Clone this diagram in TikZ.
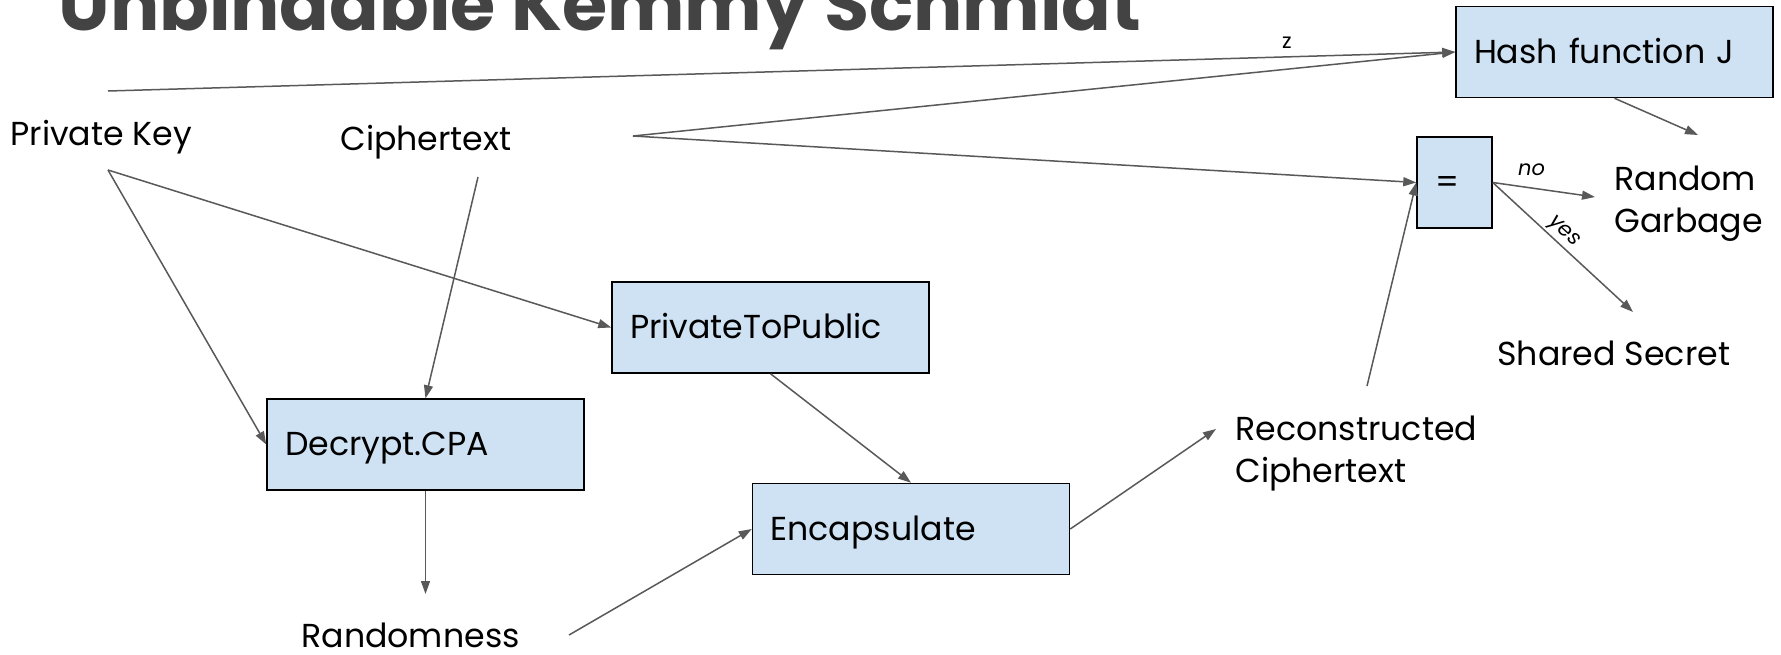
\documentclass[tikz,border=0pt]{standalone}
\usepackage{fontspec}
\setmainfont{Poppins}
\usetikzlibrary{arrows.meta}
\definecolor{boxfill}{HTML}{CFE2F3}
\definecolor{wire}{HTML}{595959}
\definecolor{titlegray}{HTML}{434343}
\begin{document}
\begin{tikzpicture}[x=0.5pt, y=-0.5pt,
  blockbox/.style={draw=black, line width=0.75pt, fill=boxfill,
    font=\fontsize{16.6}{21}\selectfont, inner xsep=9pt, inner ysep=0pt,
    text width=140.5pt, align=left, minimum height=45.5pt,
    text height=11pt, text depth=0pt},
  eqbox/.style={blockbox, text width=19.5pt},
  lbl/.style={font=\fontsize{16.6}{21}\selectfont, inner sep=0pt,
    align=left, anchor=base west},
  small/.style={font=\fontsize{10.5}{12}\selectfont, inner sep=0pt},
  wire/.style={draw=wire, line width=0.75pt,
    -{Triangle[length=6.5pt, width=4.5pt]}}]

\useasboundingbox (0,0) rectangle (1781,654);
\clip (0,0) rectangle (1781,654);
\fill[white] (0,0) rectangle (1781,654);

% title, partly above the top edge
\node[anchor=base west, inner sep=0pt, text=titlegray,
  font=\fontsize{36.6}{40}\bfseries] (title) at (58,30) {Unbindable Kemmy Schmidt};

% boxes
\node[blockbox] (hash) at (1614.5,52)  {Hash function J};
\node[eqbox]    (eq)   at (1454.5,182.5) {=};
\node[blockbox] (p2p)  at (770.5,327.5) {PrivateToPublic};
\node[blockbox] (dec)  at (425.5,444.5) {Decrypt.CPA};
\node[blockbox] (enc)  at (911,529)     {Encapsulate};

% plain labels (two-line ones are placed by their last baseline)
\node[lbl] (pk)  at (10,145)   {Private Key};
\node[lbl] (ct)  at (340,150)  {Ciphertext};
\node[lbl] (rnd) at (301,647)  {Randomness};
\node[lbl] (rc)  at (1235,482) {Reconstructed\\Ciphertext};
\node[lbl] (rg)  at (1614,232) {Random\\Garbage};
\node[lbl] (ss)  at (1497,365) {Shared Secret};

% loose connector ends
\coordinate (pk-top)  at (108,91);
\coordinate (pk-bot)  at (108,170);
\coordinate (ct-in)   at (633,136);
\coordinate (ct-bot)  at (478,177);
\coordinate (rnd-top) at (425.5,594);
\coordinate (rnd-out) at (569,635);
\coordinate (rc-in)   at (1216,429);
\coordinate (rc-out)  at (1367,386);
\coordinate (rg-in1)  at (1698,135);
\coordinate (rg-in2)  at (1595,197);
\coordinate (ss-in)   at (1633,312);

% connectors
\draw[wire] (pk-top) -- node[small, pos=0.875, anchor=base, yshift=4pt] {z} (hash.west);
\draw[wire] (ct-in) -- (hash.west);
\draw[wire] (ct-in) -- (eq.west);
\draw[wire] (pk-bot) -- (dec.west);
\draw[wire] (pk-bot) -- (p2p.west);
\draw[wire] (ct-bot) -- (dec.north);
\draw[wire] (dec.south) -- (rnd-top);
\draw[wire] (rnd-out) -- (enc.west);
\draw[wire] (p2p.south) -- (enc.north);
\draw[wire] (enc.east) -- (rc-in);
\draw[wire] (rc-out) -- (eq.west);
\draw[wire] (hash.south) -- (rg-in1);
\draw[wire] (eq.east) -- node[small, pos=0.38, anchor=base, yshift=6.5pt] {\itshape no} (rg-in2);
\draw[wire] (eq.east) -- node[small, pos=0.45, sloped, above=1pt] {\itshape yes} (ss-in);
\end{tikzpicture}
\end{document}
